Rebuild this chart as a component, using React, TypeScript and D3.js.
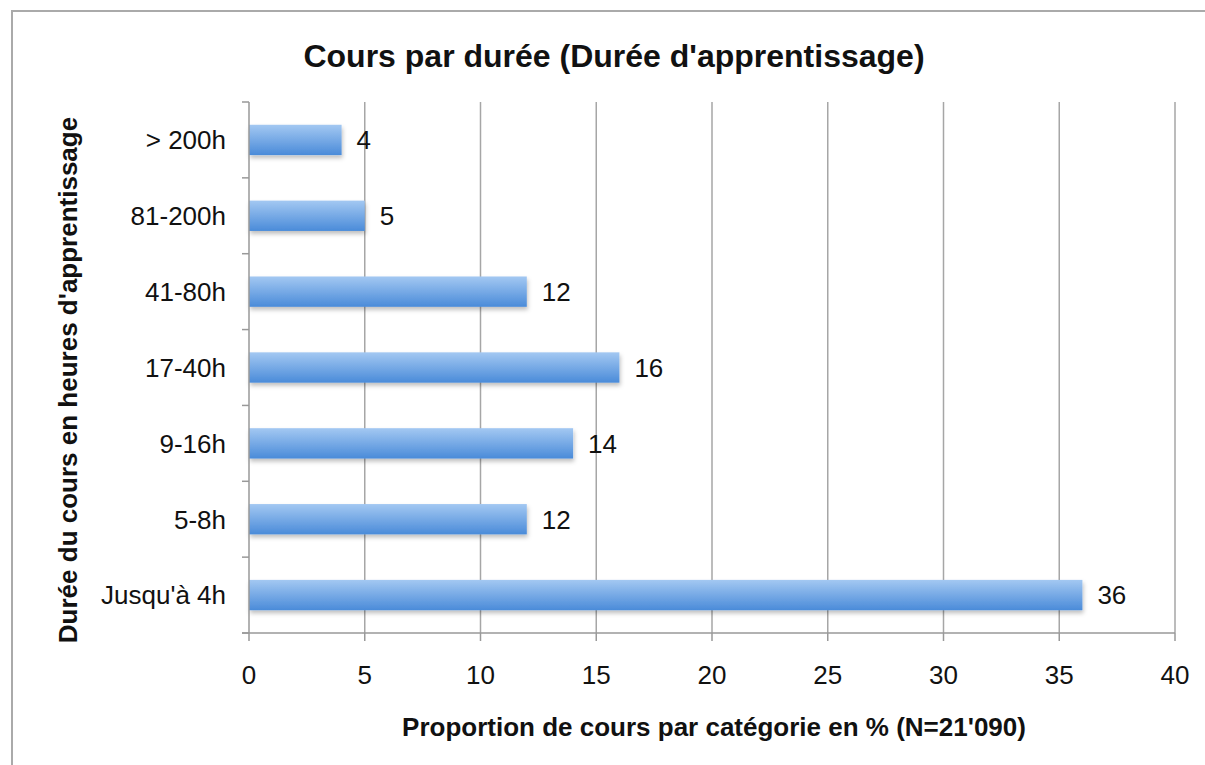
import React, { useEffect, useRef } from "react";
import * as d3 from "d3";

const categories = ["> 200h", "81-200h", "41-80h", "17-40h", "9-16h", "5-8h", "Jusqu'à 4h"];
const values = [4, 5, 12, 16, 14, 12, 36];
const xTicks = [0, 5, 10, 15, 20, 25, 30, 35, 40];

const title = "Cours par durée (Durée d'apprentissage)";
const xTitle = "Proportion de cours par catégorie en % (N=21'090)";
const yTitle = "Durée du cours en heures d'apprentissage";

const App = () => {
  const ref = useRef<SVGSVGElement>(null);

  useEffect(() => {
    const svg = d3.select(ref.current);
    svg.selectAll("*").remove();

    const width = 1205, height = 765;
    const left = 249, right = 1175, top = 102, bottom = 633;
    const font = "'Liberation Sans', Arial, sans-serif";
    const fs = 26;

    svg.append("rect").attr("width", width).attr("height", height).attr("fill", "#fff");

    // frame (only top and left edges show in the picture)
    svg.append("path")
      .attr("d", `M12,${height} L12,11 L${width},11`)
      .attr("fill", "none").attr("stroke", "#aaa").attr("stroke-width", 2);

    const defs = svg.append("defs");
    const grad = defs.append("linearGradient")
      .attr("id", "barGrad").attr("x1", 0).attr("y1", 0).attr("x2", 0).attr("y2", 1);
    grad.append("stop").attr("offset", "0%").attr("stop-color", "#a3c8f2");
    grad.append("stop").attr("offset", "100%").attr("stop-color", "#4a8bd9");
    const shadow = defs.append("filter").attr("id", "shadow")
      .attr("x", "-5%").attr("y", "-20%").attr("width", "110%").attr("height", "160%");
    shadow.append("feDropShadow")
      .attr("dx", 1).attr("dy", 3).attr("stdDeviation", 2)
      .attr("flood-color", "#000").attr("flood-opacity", 0.25);

    const x = d3.scaleLinear().domain([0, 40]).range([left, right]);
    const y = d3.scaleBand().domain(categories).range([top, bottom]).paddingInner(0.6).paddingOuter(0.3);
    const band = d3.scaleBand().domain(categories).range([top, bottom]);

    // gridlines
    svg.append("g").selectAll("line")
      .data(xTicks.slice(1))
      .enter().append("line")
      .attr("x1", d => x(d)).attr("x2", d => x(d))
      .attr("y1", top).attr("y2", bottom)
      .attr("stroke", "#a6a6a6").attr("stroke-width", 1.5);

    // bars
    svg.append("g").selectAll("rect")
      .data(values)
      .enter().append("rect")
      .attr("x", x(0))
      .attr("y", (d, i) => y(categories[i])!)
      .attr("width", d => x(d) - x(0))
      .attr("height", y.bandwidth())
      .attr("fill", "url(#barGrad)")
      .attr("filter", "url(#shadow)");

    // value labels
    svg.append("g").selectAll("text")
      .data(values)
      .enter().append("text")
      .attr("x", d => x(d) + 15)
      .attr("y", (d, i) => y(categories[i])! + y.bandwidth() / 2)
      .attr("dy", "0.36em")
      .attr("font-family", font).attr("font-size", fs).attr("fill", "#111")
      .text(d => d);

    // y axis
    const yAxis = svg.append("g");
    yAxis.append("line")
      .attr("x1", left).attr("x2", left).attr("y1", top).attr("y2", bottom)
      .attr("stroke", "#999").attr("stroke-width", 1.5);
    yAxis.selectAll("line.tick")
      .data(d3.range(categories.length + 1))
      .enter().append("line").attr("class", "tick")
      .attr("x1", left - 7).attr("x2", left)
      .attr("y1", i => top + i * band.bandwidth())
      .attr("y2", i => top + i * band.bandwidth())
      .attr("stroke", "#999").attr("stroke-width", 1.5);
    yAxis.selectAll("text")
      .data(categories)
      .enter().append("text")
      .attr("x", 226)
      .attr("y", d => band(d)! + band.bandwidth() / 2)
      .attr("dy", "0.36em")
      .attr("text-anchor", "end")
      .attr("font-family", font).attr("font-size", fs).attr("fill", "#111")
      .text(d => d);

    // x axis
    const xAxis = svg.append("g");
    xAxis.append("line")
      .attr("x1", left - 7).attr("x2", right).attr("y1", bottom).attr("y2", bottom)
      .attr("stroke", "#999").attr("stroke-width", 1.5);
    xAxis.selectAll("line.tick")
      .data(xTicks)
      .enter().append("line").attr("class", "tick")
      .attr("x1", d => x(d)).attr("x2", d => x(d))
      .attr("y1", bottom).attr("y2", bottom + 8)
      .attr("stroke", "#999").attr("stroke-width", 1.5);
    xAxis.selectAll("text")
      .data(xTicks)
      .enter().append("text")
      .attr("x", d => x(d))
      .attr("y", 675)
      .attr("dy", "0.36em")
      .attr("text-anchor", "middle")
      .attr("font-family", font).attr("font-size", fs).attr("fill", "#111")
      .text(d => d);

    // titles
    svg.append("text")
      .attr("x", 614).attr("y", 55).attr("dy", "0.36em")
      .attr("text-anchor", "middle")
      .attr("font-family", font).attr("font-size", 32).attr("font-weight", "bold").attr("fill", "#111")
      .text(title);
    svg.append("text")
      .attr("x", 714).attr("y", 727).attr("dy", "0.36em")
      .attr("text-anchor", "middle")
      .attr("font-family", font).attr("font-size", fs).attr("font-weight", "bold").attr("fill", "#111")
      .text(xTitle);
    svg.append("text")
      .attr("transform", `translate(68,380) rotate(-90)`)
      .attr("dy", "0.36em")
      .attr("text-anchor", "middle")
      .attr("font-family", font).attr("font-size", fs).attr("font-weight", "bold").attr("fill", "#111")
      .text(yTitle);
  }, []);

  return (
    <svg
      ref={ref}
      width={1205}
      height={765}
      style={{ position: "absolute", left: 0, top: 0, display: "block" }}
    />
  );
};

export default App;
